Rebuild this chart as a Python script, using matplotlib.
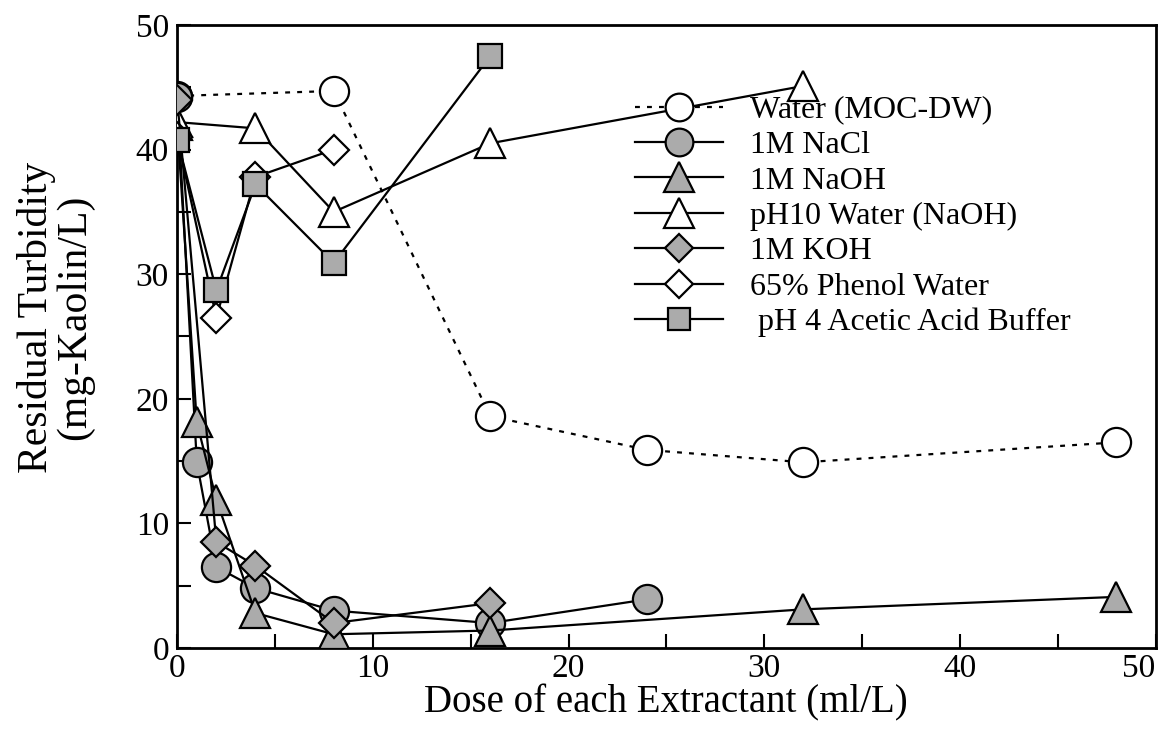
import matplotlib.pyplot as plt
import numpy as np

plt.rcParams['font.family'] = ['Liberation Serif', 'DejaVu Serif']

# dose of extractant (ml/L) and residual turbidity (mg-Kaolin/L) per series
water_x = [0, 8, 16, 24, 32, 48]
water_y = [44.3, 44.7, 18.6, 15.9, 14.9, 16.5]

nacl_x = [0, 1, 2, 4, 8, 16, 24]
nacl_y = [44.2, 14.9, 6.5, 4.8, 3.0, 2.0, 3.9]

naoh_x = [0, 1, 2, 4, 8, 16, 32, 48]
naoh_y = [42.0, 18.1, 11.9, 2.8, 1.1, 1.4, 3.1, 4.1]

ph10_x = [0, 4, 8, 16, 32]
ph10_y = [42.2, 41.7, 35.0, 40.5, 45.1]

koh_x = [0, 2, 4, 8, 16]
koh_y = [44.0, 8.5, 6.6, 2.0, 3.6]

phenol_x = [0, 2, 4, 8]
phenol_y = [41.0, 26.5, 37.8, 40.0]

acetic_x = [0, 2, 4, 8, 16]
acetic_y = [40.8, 28.7, 37.2, 30.9, 47.5]

grey = '#ababab'

fig = plt.figure(figsize=(11.66, 7.33), dpi=100)
ax = fig.add_axes([0.152, 0.116, 0.839, 0.850])

lw = 1.6
ax.plot(water_x, water_y, linestyle=(0, (2.2, 3.2)), color='k', lw=lw,
        marker='o', ms=21, mfc='white', mec='k', mew=1.6, label='Water (MOC-DW)', zorder=2)
ax.plot(nacl_x, nacl_y, '-', color='k', lw=lw,
        marker='o', ms=21, mfc=grey, mec='k', mew=1.6, label='1M NaCl', zorder=3)
ax.plot(naoh_x, naoh_y, '-', color='k', lw=lw,
        marker='^', ms=22, mfc=grey, mec='k', mew=1.6, label='1M NaOH', zorder=3)
ax.plot(ph10_x, ph10_y, '-', color='k', lw=lw,
        marker='^', ms=22, mfc='white', mec='k', mew=1.6, label='pH10 Water (NaOH)', zorder=3)
ax.plot(koh_x, koh_y, '-', color='k', lw=lw,
        marker='D', ms=15, mfc=grey, mec='k', mew=1.6, label='1M KOH', zorder=4)
ax.plot(phenol_x, phenol_y, '-', color='k', lw=lw,
        marker='D', ms=15, mfc='white', mec='k', mew=1.6, label='65% Phenol Water', zorder=3)
ax.plot(acetic_x, acetic_y, '-', color='k', lw=lw,
        marker='s', ms=17, mfc=grey, mec='k', mew=1.6, label=' pH 4 Acetic Acid Buffer', zorder=4)

ax.set_xlim(0, 50)
ax.set_ylim(0, 50)
ax.set_xticks(np.arange(0, 51, 10))
ax.set_yticks(np.arange(0, 51, 10))
ax.set_xticks(np.arange(0, 51, 5), minor=True)
ax.set_yticks(np.arange(0, 51, 5), minor=True)
ax.tick_params(which='both', direction='in', width=1.5, labelsize=24)
ax.tick_params(which='major', length=10)
ax.tick_params(which='minor', length=10)
ax.tick_params(axis='x', pad=4)
ax.tick_params(axis='y', pad=6)
for s in ax.spines.values():
    s.set_linewidth(2)

# keep the last x label inside the figure
fig.canvas.draw()
ax.get_xticklabels()[-1].set_horizontalalignment('right')

ax.set_xlabel('Dose of each Extractant (ml/L)', fontsize=28, labelpad=0)
ax.set_ylabel('Residual Turbidity\n(mg-Kaolin/L)', fontsize=30,
              linespacing=1.0)
ax.yaxis.set_label_coords(-0.085, 0.53)

ax.legend(loc='upper left', bbox_to_anchor=(0.468, 0.887), frameon=False,
          fontsize=23, handlelength=2.75, handletextpad=0.85,
          labelspacing=0.19, borderpad=0, borderaxespad=0, markerscale=0.95)

fig.savefig('out.png', dpi=100)
